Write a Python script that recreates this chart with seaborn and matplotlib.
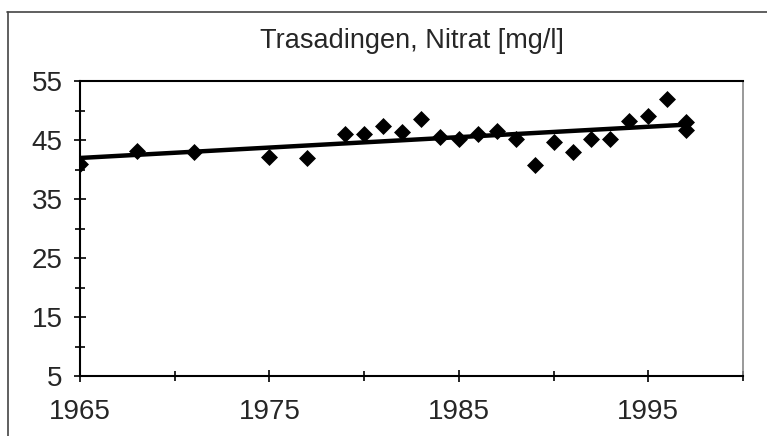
import numpy as np
import pandas as pd
import seaborn as sns
from matplotlib import pyplot as plt
from matplotlib.ticker import MultipleLocator

years = [1965, 1968, 1971, 1975, 1977, 1979, 1980, 1981, 1982, 1983,
         1984, 1985, 1986, 1987, 1988, 1989, 1990, 1991, 1992, 1993,
         1994, 1995, 1996, 1997, 1997]
nitrat = [41.0, 43.2, 43.0, 42.1, 42.0, 46.0, 46.0, 47.3, 46.4, 48.6,
          45.5, 45.2, 46.0, 46.6, 45.2, 40.8, 44.7, 43.0, 45.2, 45.2,
          48.3, 49.1, 51.9, 48.1, 46.7]

df = pd.DataFrame({'Jahr': years, 'Nitrat': nitrat})

sns.set_style('white')
plt.rcParams['font.family'] = ['Liberation Sans', 'DejaVu Sans']

fig = plt.figure(figsize=(7.67, 4.36), dpi=100)
ax = fig.add_axes([0.1043, 0.1376, 0.8644, 0.6766])

sns.regplot(
    data=df,
    x='Jahr',
    y='Nitrat',
    ax=ax,
    ci=None,
    marker='D',
    scatter_kws={'s': 75, 'color': 'black', 'alpha': 1, 'linewidths': 0},
    line_kws={'color': 'black', 'linewidth': 3.2},
)

ax.set_xlim(1965, 2000)
ax.set_ylim(5, 55)
ax.set_xticks([1965, 1975, 1985, 1995])
ax.xaxis.set_minor_locator(MultipleLocator(5))
ax.set_yticks([5, 15, 25, 35, 45, 55])
ax.yaxis.set_minor_locator(MultipleLocator(5))
ax.tick_params(which='both', direction='inout', color='black', width=1.2)
ax.tick_params(which='major', length=9, labelsize=20)
ax.tick_params(which='minor', length=7)
ax.tick_params(axis='x', which='major', pad=12)
ax.tick_params(axis='y', which='major', pad=8)
ax.tick_params(axis='x', which='both', bottom=True)
ax.tick_params(axis='y', which='both', left=True)
ax.set_xlabel('')
ax.set_ylabel('')

for side in ['left', 'bottom', 'top']:
    ax.spines[side].set_color('black')
    ax.spines[side].set_linewidth(1.5)
ax.spines['right'].set_color('#888888')
ax.spines['right'].set_linewidth(1.2)

ax.set_title('Trasadingen, Nitrat [mg/l]', fontsize=19.5, pad=24)

# outer frame, cut off at right and bottom like the scan
fig.add_artist(plt.Line2D([0.009, 1.0], [0.973, 0.973], color='#444444', linewidth=1.2))
fig.add_artist(plt.Line2D([0.010, 0.010], [0.0, 0.973], color='#444444', linewidth=1.2))

fig.savefig('out.png', dpi=100)
